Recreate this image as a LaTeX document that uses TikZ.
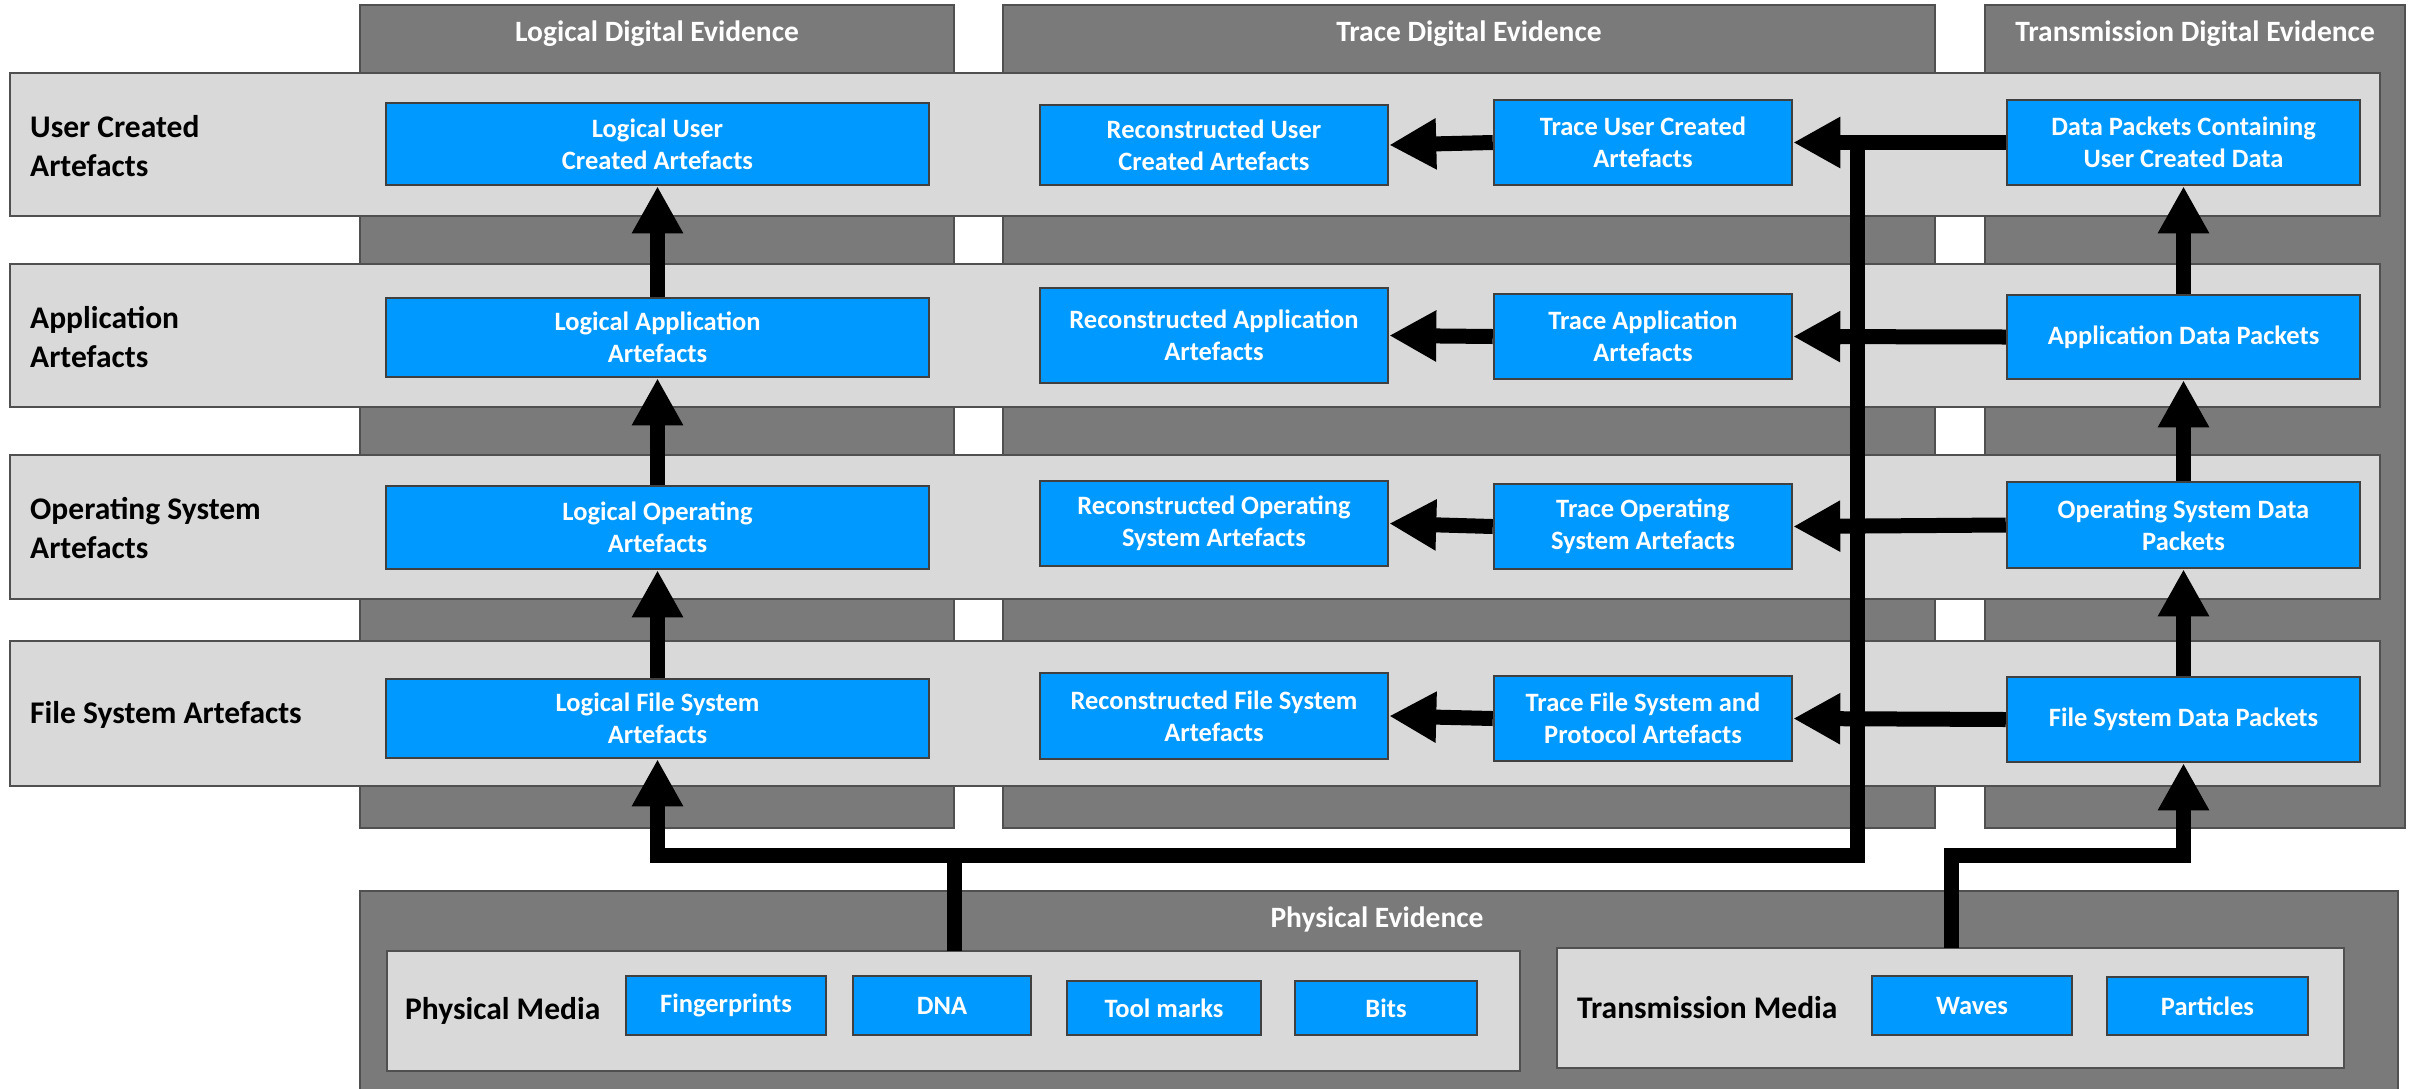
\documentclass[tikz,border=0pt]{standalone}
\usepackage{fontspec}
\setmainfont{Carlito}
\usetikzlibrary{arrows.meta,calc}
\definecolor{colDark}{RGB}{122,122,122}
\definecolor{colLight}{RGB}{217,217,217}
\definecolor{colBlue}{RGB}{0,153,255}
\definecolor{colEdge}{RGB}{80,80,80}
\definecolor{colBoxEdge}{RGB}{64,64,64}
\tikzset{
  colbox/.style={fill=colDark,draw=colEdge,line width=2.5pt},
  bandbox/.style={fill=colLight,draw=colEdge,line width=2.5pt},
  bluebox/.style={fill=colBlue,draw=colBoxEdge,line width=2.5pt,text=white,align=center,inner sep=0pt,
    font=\fontsize{26.5}{32}\selectfont\bfseries},
  rowlbl/.style={anchor=west,align=left,inner sep=0pt,text=black,font=\fontsize{31.5}{39}\selectfont\bfseries},
  hdr/.style={inner sep=0pt,text=white,font=\fontsize{29.5}{32}\selectfont\bfseries},
  conn/.style={line width=15pt,black,line join=miter},
  arr/.style={conn,-{Triangle[width=48pt,length=47pt]}},
}
\newcommand{\bb}[6]{\node[bluebox,minimum width=#4pt,minimum height=#5pt] (#1) at (#2,#3) {#6};}
\begin{document}
\begin{tikzpicture}[x=1pt,y=-1pt]
\useasboundingbox (0,0) rectangle (2410,1088);
\clip (0,0) rectangle (2410,1088);
% columns
\node[colbox,minimum width=594pt,minimum height=823pt,inner sep=0pt] (colL) at (657,416.5) {};
\node[colbox,minimum width=932pt,minimum height=823pt,inner sep=0pt] (colT) at (1469,416.5) {};
\node[colbox,minimum width=420pt,minimum height=823pt,inner sep=0pt] (colX) at (2195,416.5) {};
\node[hdr] (hL) at (657,34) {Logical Digital Evidence};
\node[hdr] (hT) at (1469,34) {Trace Digital Evidence};
\node[hdr] (hX) at (2195,34) {Transmission Digital Evidence};
% bands
\node[bandbox,minimum width=2370pt,minimum height=143pt,inner sep=0pt] (b1) at (1195,144.5) {};
\node[bandbox,minimum width=2370pt,minimum height=143pt,inner sep=0pt] (b2) at (1195,335.5) {};
\node[bandbox,minimum width=2370pt,minimum height=144pt,inner sep=0pt] (b3) at (1195,527) {};
\node[bandbox,minimum width=2370pt,minimum height=145pt,inner sep=0pt] (b4) at (1195,713.5) {};
\node[rowlbl] (l1) at (30,146) {User Created\\Artefacts};
\node[rowlbl] (l2) at (30,337) {Application\\Artefacts};
\node[rowlbl] (l3) at (30,528) {Operating System\\Artefacts};
\node[rowlbl] (l4) at (30,715) {File System Artefacts};
% physical evidence
\node[colbox,minimum width=2038pt,minimum height=220pt,inner sep=0pt] (pe) at (1379,1001) {};
\node[hdr] (peh) at (1377,919) {Physical Evidence};
\node[bandbox,minimum width=1133pt,minimum height=120pt,inner sep=0pt] (pm) at (953.5,1011) {};
\node[bandbox,minimum width=787pt,minimum height=120pt,inner sep=0pt] (tm) at (1950.5,1008) {};
\node[rowlbl] (pml) at (405,1011) {Physical Media};
\node[rowlbl] (tml) at (1577,1008) {Transmission Media};
% blue boxes
\bb{luser}{657.5}{144}{543}{82}{Logical User\\Created Artefacts}
\bb{lapp}{657.5}{337.5}{543}{79}{Logical Application\\Artefacts}
\bb{los}{657.5}{527.5}{543}{83}{Logical Operating\\Artefacts}
\bb{lfs}{657.5}{718.5}{543}{79}{Logical File System\\Artefacts}
\bb{ruser}{1214}{145}{348}{80}{Reconstructed User\\Created Artefacts}
\bb{rapp}{1214}{335.5}{348}{95}{Reconstructed Application\\Artefacts}
\bb{ros}{1214}{523.5}{348}{85}{Reconstructed Operating\\System Artefacts}
\bb{rfs}{1214}{716}{348}{86}{Reconstructed File System\\Artefacts}
\bb{tuser}{1643}{142.5}{298}{85}{Trace User Created\\Artefacts}
\bb{tapp}{1643}{336.5}{298}{85}{Trace Application\\Artefacts}
\bb{tos}{1643}{526.5}{298}{85}{Trace Operating\\System Artefacts}
\bb{tfs}{1643}{718.5}{298}{85}{Trace File System and\\Protocol Artefacts}
\bb{xuser}{2183.5}{142.5}{353}{85}{Data Packets Containing\\User Created Data}
\bb{xapp}{2183.5}{337}{353}{84}{Application Data Packets}
\bb{xos}{2183.5}{525}{353}{86}{Operating System Data\\Packets}
\bb{xfs}{2183.5}{719.5}{353}{85}{File System Data Packets}
\bb{fing}{726}{1005.5}{200}{59}{Fingerprints}
\bb{dna}{942}{1005.5}{178}{59}{DNA}
\bb{tool}{1164}{1008}{194}{54}{Tool marks}
\bb{bits}{1386}{1008}{182}{54}{Bits}
\bb{waves}{1972}{1005.5}{200}{59}{Waves}
\bb{part}{2207.5}{1006}{201}{58}{Particles}
% connectors
\draw[arr] (lfs.north) -- (los.south);
\draw[arr] (los.north) -- (lapp.south);
\draw[arr] (lapp.north) -- (luser.south);
\draw[arr] (xfs.north) -- (xos.south);
\draw[arr] (xos.north) -- (xapp.south);
\draw[arr] (xapp.north) -- (xuser.south);
\foreach \r in {user,app,os,fs}{
  \draw[arr] (x\r.west) -- (t\r.east);
  \draw[arr] (t\r.west) -- (r\r.east);
}
\coordinate (pmOut) at (954,951);
\coordinate (j1) at (954,855);
\coordinate (vtop) at (1857,142.5);
\draw[arr] (pmOut) -- (j1) -| (lfs.south);
\draw[conn] (j1) -| (vtop);
\coordinate (tmOut) at (1951,948);
\coordinate (j2) at (1951,855);
\draw[arr] (tmOut) -- (j2) -| (xfs.south);
\end{tikzpicture}
\end{document}
